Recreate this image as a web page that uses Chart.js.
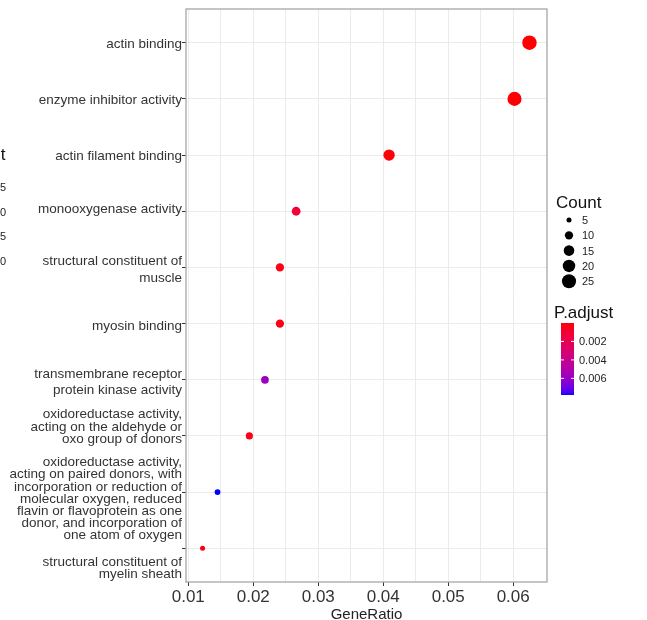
<!DOCTYPE html>
<html>
<head>
<meta charset="utf-8">
<script src="https://cdn.jsdelivr.net/npm/chart.js@4.4.1/dist/chart.umd.min.js"></script>
<style>
  html, body { margin: 0; padding: 0; background: #fff; }
  #wrap { width: 647px; height: 620px; position: relative; }
</style>
</head>
<body>
<div id="wrap"><canvas id="dotplot"></canvas></div>
<script>
"use strict";

// GO terms, top to bottom, already wrapped the way the plot shows them
const termLabels = [
  ["actin binding"],
  ["enzyme inhibitor activity"],
  ["actin filament binding"],
  ["monooxygenase activity"],
  ["structural constituent of", "muscle"],
  ["myosin binding"],
  ["transmembrane receptor", "protein kinase activity"],
  ["oxidoreductase activity,", "acting on the aldehyde or", "oxo group of donors"],
  ["oxidoreductase activity,", "acting on paired donors, with", "incorporation or reduction of",
   "molecular oxygen, reduced", "flavin or flavoprotein as one", "donor, and incorporation of",
   "one atom of oxygen"],
  ["structural constituent of", "myelin sheath"]
];
const geneRatio = [0.0625, 0.0602, 0.0409, 0.0266, 0.0241, 0.0241, 0.0218, 0.0194, 0.0145, 0.0122];
const counts = [26, 25, 17, 11, 10, 10, 9, 8, 6, 5];
const pAdjust = [0.00001, 0.00003, 0.0001, 0.0012, 0.0003, 0.0003, 0.0058, 0.0004, 0.0078, 0.0002];

const xTicks = [0.01, 0.015, 0.02, 0.025, 0.03, 0.035, 0.04, 0.045, 0.05, 0.055, 0.06];
const xMajor = [0.01, 0.02, 0.03, 0.04, 0.05, 0.06];
const countBreaks = [5, 10, 15, 20, 25];
const pBreaks = [0.002, 0.004, 0.006];
const strayBreaks = ["15", "20", "25", "30"];

// where the first line of each wrapped label sits against its tick, and its line gap
const labelShift = [1.8, 1.6, 1.3, -1.5, -6, 2.7, -5.7, -21.5, -29.7, 14.3];
const labelGap = [0, 0, 0, 0, 17, 0, 16.4, 12.5, 12.2, 11.5];

const FONT = "'Liberation Sans', Arial, sans-serif";

// size scale (area linear in count)
const cMin = Math.min(...counts), cMax = Math.max(...counts);
const rMin = 2.5, rMax = 7.2;
function sizeFor(c) {
  let t = (c - cMin) / (cMax - cMin);
  return Math.sqrt(rMin * rMin + t * (rMax * rMax - rMin * rMin));
}

// colour scale red -> blue interpolated in Lab, like ggplot
function toLin(c) { c /= 255; return c <= 0.04045 ? c / 12.92 : Math.pow((c + 0.055) / 1.055, 2.4); }
function fromLin(c) {
  let v = c <= 0.0031308 ? 12.92 * c : 1.055 * Math.pow(c, 1 / 2.4) - 0.055;
  return Math.round(Math.max(0, Math.min(1, v)) * 255);
}
const WX = 0.95047, WY = 1, WZ = 1.08883;
function rgbToLab(rgb) {
  let r = toLin(rgb[0]), g = toLin(rgb[1]), b = toLin(rgb[2]);
  let x = (r * 0.4124 + g * 0.3576 + b * 0.1805) / WX;
  let y = (r * 0.2126 + g * 0.7152 + b * 0.0722) / WY;
  let z = (r * 0.0193 + g * 0.1192 + b * 0.9505) / WZ;
  let f = (t) => t > 0.008856 ? Math.cbrt(t) : 7.787 * t + 16 / 116;
  let fx = f(x), fy = f(y), fz = f(z);
  return [116 * fy - 16, 500 * (fx - fy), 200 * (fy - fz)];
}
function labToRgb(lab) {
  let fy = (lab[0] + 16) / 116, fx = fy + lab[1] / 500, fz = fy - lab[2] / 200;
  let inv = (t) => t * t * t > 0.008856 ? t * t * t : (t - 16 / 116) / 7.787;
  let x = inv(fx) * WX, y = inv(fy) * WY, z = inv(fz) * WZ;
  let r = x * 3.2406 + y * -1.5372 + z * -0.4986;
  let g = x * -0.9689 + y * 1.8758 + z * 0.0415;
  let b = x * 0.0557 + y * -0.2040 + z * 1.0570;
  return "rgb(" + fromLin(r) + "," + fromLin(g) + "," + fromLin(b) + ")";
}
const labLow = rgbToLab([255, 0, 0]);
const labHigh = rgbToLab([0, 0, 255]);
const pMin = Math.min(...pAdjust), pMax = Math.max(...pAdjust);
function colourFor(p) {
  let t = (p - pMin) / (pMax - pMin);
  t = Math.max(0, Math.min(1, t));
  return labToRgb([0, 1, 2].map(i => labLow[i] + t * (labHigh[i] - labLow[i])));
}

const points = geneRatio.map((g, i) => ({ x: g, y: i }));

const legendPlugin = {
  id: "ggLegends",
  afterDatasetsDraw(chart) {
    const ctx = chart.ctx;
    const a = chart.chartArea;
    const ys = chart.scales.y;
    ctx.save();
    // panel border
    ctx.strokeStyle = "#a6a6a6";
    ctx.lineWidth = 1.3;
    ctx.strokeRect(a.left, a.top, a.right - a.left, a.bottom - a.top);

    // term labels next to the y ticks
    ctx.textAlign = "right";
    ctx.textBaseline = "middle";
    ctx.fillStyle = "#333";
    ctx.font = "13.5px " + FONT;
    termLabels.forEach((lines, i) => {
      let y0 = ys.getPixelForValue(i) + labelShift[i];
      lines.forEach((line, k) => {
        ctx.fillText(line, a.left - 4, y0 + k * labelGap[i]);
      });
    });

    // Count legend
    ctx.fillStyle = "#111";
    ctx.textAlign = "left";
    ctx.font = "17px " + FONT;
    ctx.fillText("Count", 556, 203);
    ctx.font = "11px " + FONT;
    countBreaks.forEach((c, i) => {
      let y = 220 + i * 15.3;
      ctx.beginPath();
      ctx.fillStyle = "#000";
      ctx.arc(569, y, sizeFor(c), 0, Math.PI * 2);
      ctx.fill();
      ctx.fillStyle = "#222";
      ctx.fillText(String(c), 582, y + 1);
    });

    // P.adjust colour bar
    ctx.fillStyle = "#111";
    ctx.font = "17px " + FONT;
    ctx.fillText("P.adjust", 554, 313);
    const bx = 561, bw = 13, bt = 323, bb = 395;
    for (let y = bt; y < bb; y++) {
      let p = pMin + (y + 0.5 - bt) / (bb - bt) * (pMax - pMin);
      ctx.fillStyle = colourFor(p);
      ctx.fillRect(bx, y, bw, 1);
    }
    ctx.font = "11px " + FONT;
    pBreaks.forEach((p) => {
      let y = bt + (p - pMin) / (pMax - pMin) * (bb - bt);
      ctx.strokeStyle = "#fff";
      ctx.lineWidth = 1;
      ctx.beginPath();
      ctx.moveTo(bx, y); ctx.lineTo(bx + 3, y);
      ctx.moveTo(bx + bw - 3, y); ctx.lineTo(bx + bw, y);
      ctx.stroke();
      ctx.fillStyle = "#222";
      ctx.fillText(p.toFixed(3), 579, y + 1);
    });

    // a neighbouring legend, cut off at the left edge
    ctx.textAlign = "right";
    ctx.fillStyle = "#111";
    ctx.font = "17px " + FONT;
    ctx.fillText("Count", 5.5, 155);
    ctx.font = "11px " + FONT;
    ctx.fillStyle = "#222";
    strayBreaks.forEach((s, i) => {
      ctx.fillText(s, 6, 188 + i * 24.7);
    });
    ctx.restore();
  }
};

const chart = new Chart(document.getElementById("dotplot"), {
  type: "scatter",
  data: {
    datasets: [{
      data: points,
      pointRadius: counts.map(sizeFor),
      pointHoverRadius: counts.map(sizeFor),
      backgroundColor: pAdjust.map(colourFor),
      borderWidth: 0
    }]
  },
  options: {
    responsive: true,
    maintainAspectRatio: false,
    animation: false,
    layout: { padding: { left: 0, right: 100, top: 9, bottom: 0 } },
    plugins: { legend: { display: false }, tooltip: { enabled: false } },
    scales: {
      x: {
        type: "linear",
        min: 0.00965,
        max: 0.0652,
        afterBuildTicks: (s) => { s.ticks = xTicks.map(v => ({ value: v })); },
        afterFit: (s) => { s.height = 38; },
        border: { display: false },
        grid: {
          color: "#ebebeb",
          lineWidth: 1,
          tickLength: 4,
          tickColor: (c) => xMajor.some(v => Math.abs(v - c.tick.value) < 1e-9) ? "#333" : "rgba(0,0,0,0)"
        },
        ticks: {
          autoSkip: false,
          maxRotation: 0,
          padding: 1,
          color: "#333",
          font: { family: FONT, size: 17 },
          callback: (v) => xMajor.some(m => Math.abs(m - v) < 1e-9) ? v.toFixed(2) : ""
        },
        title: {
          display: true,
          text: "GeneRatio",
          color: "#222",
          font: { family: FONT, size: 15 },
          padding: { top: 0, bottom: -4 }
        }
      },
      y: {
        type: "linear",
        reverse: true,
        min: -0.6,
        max: termLabels.length - 0.4,
        afterBuildTicks: (s) => { s.ticks = termLabels.map((t, i) => ({ value: i })); },
        afterFit: (s) => { s.width = 186; },
        border: { display: false },
        grid: { color: "#ebebeb", lineWidth: 1, tickLength: 4, tickColor: "#333" },
        ticks: { display: false }
      }
    }
  },
  plugins: [legendPlugin]
});
</script>
</body>
</html>
